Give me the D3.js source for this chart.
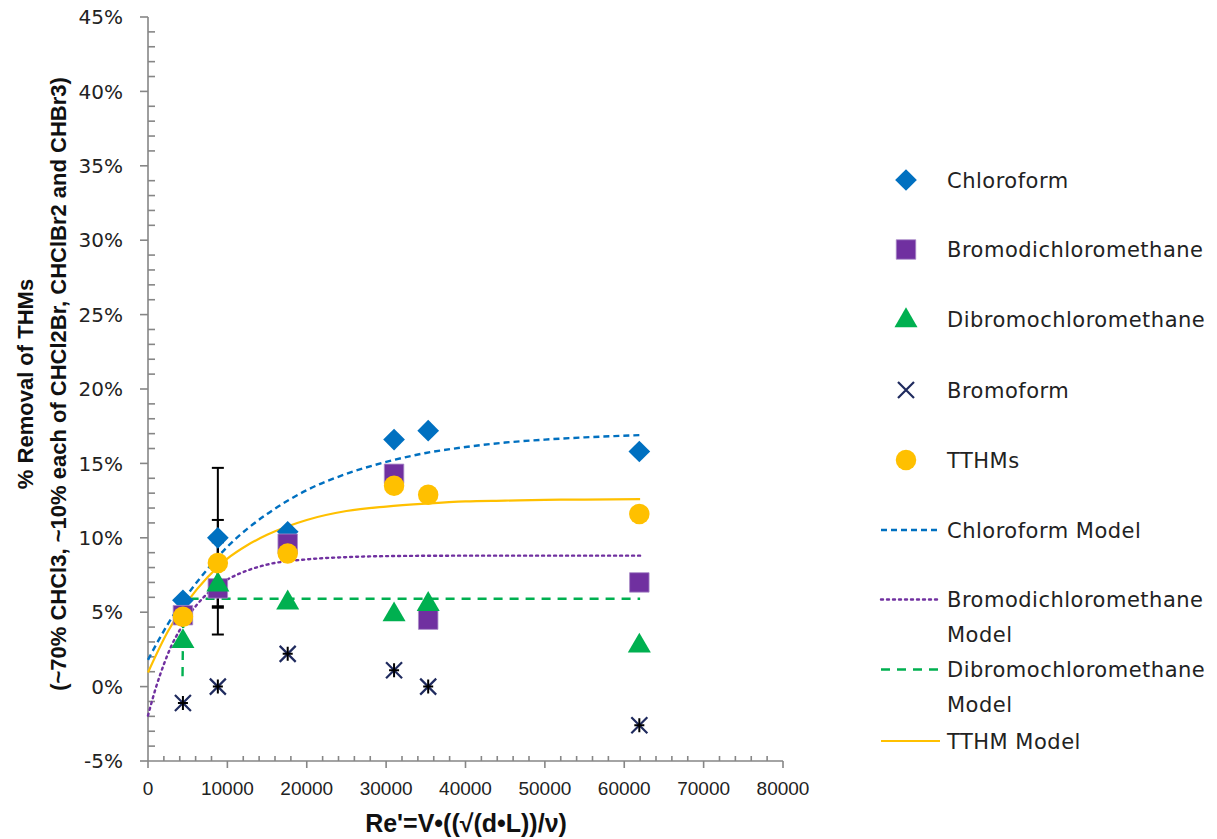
<!DOCTYPE html>
<html>
<head>
<meta charset="utf-8">
<script src="https://cdn.jsdelivr.net/npm/d3@7"></script>
<style>
  html, body { margin: 0; padding: 0; background: #fff; }
  svg { display: block; }
</style>
</head>
<body>
<svg id="chart" width="1217" height="839"></svg>
<script>
// Measured Re' values for each test run
const reValues = [4400, 8800, 17600, 31000, 35300, 61900];

// % removal per compound at each Re'
const chloroform = [5.8, 10.0, 10.4, 16.6, 17.2, 15.8];
const bromodichloromethane = [4.8, 6.6, 9.6, 14.3, 4.5, 7.0];
const dibromochloromethane = [3.1, 6.9, 5.7, 4.9, 5.6, 2.8];
const bromoform = [-1.1, 0.0, 2.2, 1.1, 0.0, -2.6];
const tthms = [4.7, 8.3, 8.95, 13.5, 12.9, 11.6];

// Error bars (low, high) at Re' = 8800
const errX = [8800, 8800, 8800];
const errLow = [5.3, 5.4, 3.5];
const errHigh = [14.7, 11.2, 9.7];

// Fitted model curves, sampled along Re'
const chloroformModelX = [0, 2500, 5000, 7500, 10000, 12500, 15000, 20000, 25000, 30000, 35000, 40000, 45000, 50000, 55000, 62000];
const chloroformModelY = [1.8, 4.2, 6.2, 7.9, 9.4, 10.6, 11.6, 13.2, 14.3, 15.1, 15.7, 16.1, 16.4, 16.6, 16.75, 16.9];
const bdcmModelX = [0, 1000, 2000, 3000, 4000, 5000, 6000, 8000, 10000, 12500, 15000, 20000, 25000, 30000, 40000, 62000];
const bdcmModelY = [-1.95, -0.06, 1.5, 2.8, 3.8, 4.7, 5.4, 6.5, 7.2, 7.8, 8.2, 8.55, 8.7, 8.77, 8.8, 8.8];
const dbcmModelX = [4350, 4400, 4500, 4700, 5200, 8000, 62000];
const dbcmModelY = [0.7, 3.0, 5.0, 5.7, 5.9, 5.9, 5.9];
const tthmModelX = [0, 2500, 5000, 7500, 10000, 12500, 15000, 20000, 25000, 30000, 35000, 40000, 45000, 50000, 55000, 62000];
const tthmModelY = [0.95, 3.7, 5.75, 7.35, 8.6, 9.5, 10.2, 11.2, 11.8, 12.1, 12.3, 12.45, 12.5, 12.55, 12.57, 12.6];

// Axis ticks
const xTicks = [0, 10000, 20000, 30000, 40000, 50000, 60000, 70000, 80000];
const yTicks = [-5, 0, 5, 10, 15, 20, 25, 30, 35, 40, 45];

const legendLabels = ["Chloroform", "Bromodichloromethane", "Dibromochloromethane", "Bromoform", "TTHMs",
  "Chloroform Model", "Bromodichloromethane\nModel", "Dibromochloromethane\nModel", "TTHM Model"];

const C = {
  blue: "#0070C0", purple: "#7030A0", green: "#00B050", navy: "#1F2A5E", gold: "#FFC000", axis: "#868686"
};

const svg = d3.select("#chart");
const x = d3.scaleLinear().domain([0, 80000]).range([148, 783]);
const y = d3.scaleLinear().domain([-5, 45]).range([761, 17]);

const uiFont = "'DejaVu Sans', Verdana, sans-serif";
const narrowFont = "'Liberation Sans Narrow', 'Liberation Sans', Arial, sans-serif";

// ---- Axes ----
const ax = svg.append("g").attr("stroke", C.axis).attr("stroke-width", 1.6).attr("fill", "none");
// minor y ticks, right side of axis, every 1%
d3.range(-5, 45.01, 1).forEach(v => {
  if (v % 5 !== 0) ax.append("line").attr("x1", x(0)).attr("x2", x(0) + 7).attr("y1", y(v)).attr("y2", y(v));
});
yTicks.forEach(v => ax.append("line").attr("x1", x(0) - 8).attr("x2", x(0)).attr("y1", y(v)).attr("y2", y(v)));
// minor x ticks, above axis, every 2000
d3.range(0, 80001, 2000).forEach(v => {
  if (v % 10000 !== 0) ax.append("line").attr("x1", x(v)).attr("x2", x(v)).attr("y1", y(-5) - 5).attr("y2", y(-5));
});
xTicks.forEach(v => ax.append("line").attr("x1", x(v)).attr("x2", x(v)).attr("y1", y(-5)).attr("y2", y(-5) + 7));
ax.append("line").attr("x1", x(0)).attr("x2", x(0)).attr("y1", y(45)).attr("y2", y(-5));
ax.append("line").attr("x1", x(0)).attr("x2", x(80000)).attr("y1", y(-5)).attr("y2", y(-5));

// tick labels
svg.append("g").selectAll("text").data(yTicks).join("text")
  .attr("x", 123).attr("y", d => y(d)).attr("dy", "0.36em")
  .attr("text-anchor", "end").attr("font-family", uiFont).attr("font-size", 20).attr("fill", "#222")
  .text(d => d + "%");
svg.append("g").selectAll("text").data(xTicks).join("text")
  .attr("x", d => x(d)).attr("y", 795)
  .attr("text-anchor", "middle").attr("font-family", narrowFont).attr("font-size", 19).attr("fill", "#222")
  .text(d => d);

// axis titles
svg.append("text").attr("x", 466).attr("y", 832).attr("text-anchor", "middle")
  .attr("font-family", narrowFont).attr("font-weight", "bold").attr("font-size", 25).attr("fill", "#111")
  .text("Re'=V\u2022((\u221A(d\u2022L))/\u03BD)");
const yt = svg.append("text").attr("transform", "translate(0,384) rotate(-90)")
  .attr("text-anchor", "middle").attr("font-family", narrowFont).attr("font-weight", "bold")
  .attr("font-size", 22).attr("fill", "#111");
yt.append("tspan").attr("x", 0).attr("y", 33).text("% Removal of THMs");
yt.append("tspan").attr("x", 0).attr("y", 66).text("(~70% CHCl3, ~10% each of CHCl2Br, CHClBr2 and CHBr3)");

// ---- Model lines ----
const line = d3.line().x(d => x(d[0])).y(d => y(d[1])).curve(d3.curveMonotoneX);
const models = [
  { xs: chloroformModelX, ys: chloroformModelY, color: C.blue, dash: "6,4", w: 2.4 },
  { xs: bdcmModelX, ys: bdcmModelY, color: C.purple, dash: "2,4", w: 2.4 },
  { xs: dbcmModelX, ys: dbcmModelY, color: C.green, dash: "9,7", w: 2.4 },
  { xs: tthmModelX, ys: tthmModelY, color: C.gold, dash: null, w: 2.2 }
];
models.forEach(m => {
  svg.append("path").attr("d", line(m.xs.map((v, i) => [v, m.ys[i]])))
    .attr("fill", "none").attr("stroke", m.color).attr("stroke-width", m.w)
    .attr("stroke-dasharray", m.dash).attr("stroke-linecap", m.dash === "2,4" ? "round" : "butt");
});

// ---- Error bars ----
const eb = svg.append("g").attr("stroke", "#000").attr("stroke-width", 2);
errX.forEach((xv, i) => {
  eb.append("line").attr("x1", x(xv)).attr("x2", x(xv)).attr("y1", y(errLow[i])).attr("y2", y(errHigh[i]));
  [errLow[i], errHigh[i]].forEach(v =>
    eb.append("line").attr("x1", x(xv) - 6).attr("x2", x(xv) + 6).attr("y1", y(v)).attr("y2", y(v)));
});

// ---- Markers ----
const sym = {
  diamond: d3.symbol().type(d3.symbolDiamond2).size(300),
  square: d3.symbol().type(d3.symbolSquare).size(380),
  triangle: d3.symbol().type(d3.symbolTriangle).size(230),
  circle: d3.symbol().type(d3.symbolCircle).size(330)
};

function drawMarker(g, kind, cx, cy) {
  if (kind === "diamond") {
    g.append("path").attr("d", sym.diamond()).attr("transform", `translate(${cx},${cy})`).attr("fill", C.blue);
  } else if (kind === "square") {
    g.append("path").attr("d", sym.square()).attr("transform", `translate(${cx},${cy})`)
      .attr("fill", C.purple).attr("stroke", "#A98BC8").attr("stroke-width", 0.8);
  } else if (kind === "triangle") {
    g.append("path").attr("d", sym.triangle()).attr("transform", `translate(${cx},${cy + 1})`).attr("fill", C.green);
  } else if (kind === "cross") {
    g.append("path").attr("d", "M-8,-8L8,8M-8,8L8,-8").attr("transform", `translate(${cx},${cy})`)
      .attr("stroke", C.navy).attr("stroke-width", 2.2).attr("fill", "none");
  } else if (kind === "circle") {
    g.append("path").attr("d", sym.circle()).attr("transform", `translate(${cx},${cy})`).attr("fill", C.gold);
  }
}

const series = [
  { vals: chloroform, kind: "diamond" },
  { vals: bromodichloromethane, kind: "square" },
  { vals: dibromochloromethane, kind: "triangle" },
  { vals: bromoform, kind: "cross" },
  { vals: tthms, kind: "circle" }
];
series.forEach(s => {
  const g = svg.append("g");
  s.vals.forEach((v, i) => {
    drawMarker(g, s.kind, x(reValues[i]), y(v));
    if (s.kind === "cross") {
      // small error bars sitting on each bromoform point
      g.append("path").attr("d", `M${x(reValues[i])},${y(v) - 7}V${y(v) + 7}M${x(reValues[i]) - 5},${y(v)}H${x(reValues[i]) + 5}`)
        .attr("stroke", "#000").attr("stroke-width", 2);
    }
  });
});

// ---- Legend ----
const lg = svg.append("g");
const legendY = [180, 249.5, 319.5, 390, 460, 530, 599.5, 669.5, 741];
legendLabels.forEach((lab, i) => {
  const ly = legendY[i];
  if (i < 5) {
    drawMarker(lg, series[i].kind, 906, ly);
  } else {
    const m = models[i - 5];
    lg.append("line").attr("x1", 881).attr("x2", 940).attr("y1", ly).attr("y2", ly)
      .attr("stroke", m.color).attr("stroke-width", m.w).attr("stroke-dasharray", m.dash)
      .attr("stroke-linecap", m.dash === "2,4" ? "round" : "butt");
  }
  const t = lg.append("text").attr("x", 947).attr("y", ly)
    .attr("font-family", uiFont).attr("font-size", 21).attr("letter-spacing", 0.5).attr("fill", "#222");
  lab.split("\n").forEach((part, k) => {
    t.append("tspan").attr("x", 947).attr("dy", k === 0 ? "0.36em" : 35).text(part);
  });
});
</script>
</body>
</html>
